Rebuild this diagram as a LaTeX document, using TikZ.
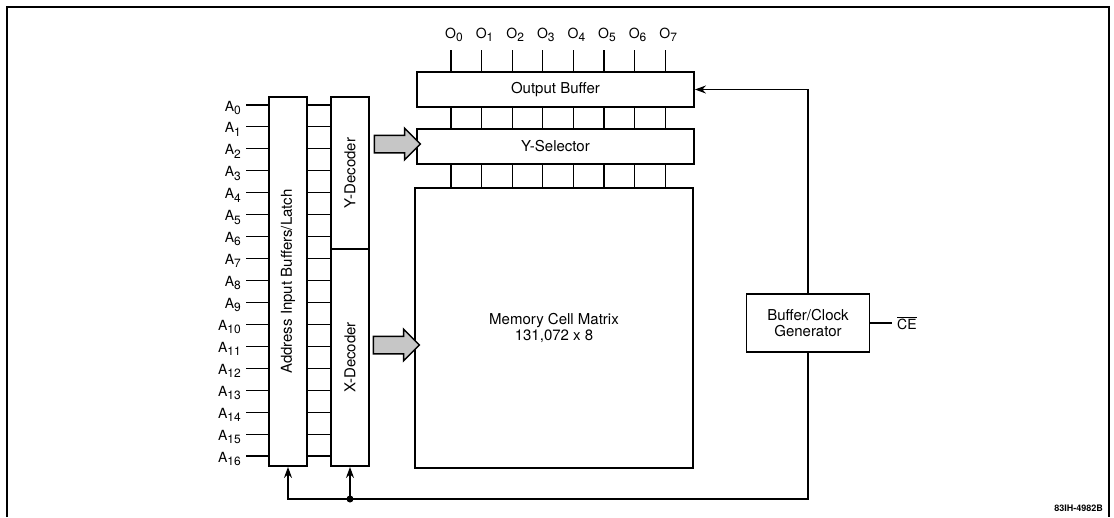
\documentclass[tikz,border=0pt]{standalone}
\usepackage{fontspec}
\setmainfont{TeX Gyre Heros}
\usetikzlibrary{arrows.meta,shapes.arrows}
\newcommand{\sbs}[1]{\raisebox{-0.45ex}{\fontsize{12}{12}\selectfont #1}}
\tikzset{
  blk/.style={draw,line width=1.9pt,inner sep=0pt},
  wire/.style={line width=1.1pt},
  pin/.style={font=\fontsize{14}{14}\selectfont,inner sep=0pt},
  txt/.style={font=\fontsize{15}{16}\selectfont,align=center,inner sep=0pt},
  fat/.style={single arrow,draw,line width=1.5pt,fill=gray!45,minimum height=46pt,
    minimum width=30pt,single arrow head extend=7pt,inner sep=8pt},
  ctl/.style={wire,-{Stealth[length=11pt,width=8pt]}}
}
\begin{document}
\begin{tikzpicture}[x=1pt,y=-1pt]
    \useasboundingbox (0,0) rectangle (1114,517);
    \draw[line width=1.6pt] (7,517) -- (7,7) -- (1109,7) -- (1109,517);
    % blocks
    \node[blk,minimum width=38pt,minimum height=369pt] (addr) at (288,281.5) {};
    \node[txt,rotate=90] (addrtxt) at (addr.center) {Address Input Buffers/Latch};
    \node[blk,minimum width=38pt,minimum height=152pt] (ydec) at (350,173) {};
    \node[txt,rotate=90] (ydectxt) at (ydec.center) {Y-Decoder};
    \node[blk,minimum width=38pt,minimum height=217pt] (xdec) at (350,357.5) {};
    \node[txt,rotate=90] (xdectxt) at (xdec.center) {X-Decoder};
    \node[blk,txt,minimum width=277pt,minimum height=35pt] (outbuf) at (555.5,89.5) {Output Buffer};
    \node[blk,txt,minimum width=277pt,minimum height=35pt] (ysel) at (555.5,146.5) {Y-Selector};
    \node[blk,txt,minimum width=278pt,minimum height=280pt] (mem) at (554,328) {Memory Cell Matrix\\131,072 x 8};
    \node[blk,txt,minimum width=123pt,minimum height=58pt] (bcg) at (808,323) {Buffer/Clock\\Generator};
    \node[fat] (yarr) at (393,144) {};
    \node[fat] (xarr) at (392,345) {};
    % address pins
    \foreach \i in {0,...,16}{
        \coordinate (p\i) at (246,{105+21.94*\i});
        \node[pin,anchor=base east] (a\i) at (241,{111+21.94*\i}) {A\sbs{\i}};
        \draw[wire] (p\i) -- (p\i -| addr.west);
        \draw[wire] (p\i -| addr.east) -- (p\i -| ydec.west);
    }
    % data pins
    \foreach \i in {0,...,7}{
        \coordinate (q\i) at ({451+30.6*\i},50);
        \node[pin,anchor=base] (o\i) at ({454+30.6*\i},38) {O\sbs{\i}};
        \draw[wire] (q\i) -- (q\i |- outbuf.north);
        \draw[wire] (q\i |- outbuf.south) -- (q\i |- ysel.north);
        \draw[wire] (q\i |- ysel.south) -- (q\i |- mem.north);
    }
    % control
    \draw[ctl] (bcg.north) |- (outbuf.east);
    \coordinate (bus) at (350,499);
    \draw[wire] (bcg.south) |- (bus);
    \draw[ctl] (bus) -- (xdec.south);
    \draw[ctl] (bus) -| (addr.south);
    \fill (bus) circle (3.5pt);
    \coordinate (cein) at (892,323);
    \draw[wire] (bcg.east) -- (cein);
    \node[pin,anchor=west] (ce) at (897,323) {$\overline{\mbox{CE}}$};
    \node[font=\bfseries\fontsize{9}{9}\selectfont,anchor=east,inner sep=0pt] (tag) at (1103,508) {83IH-4982B};
\end{tikzpicture}
\end{document}
